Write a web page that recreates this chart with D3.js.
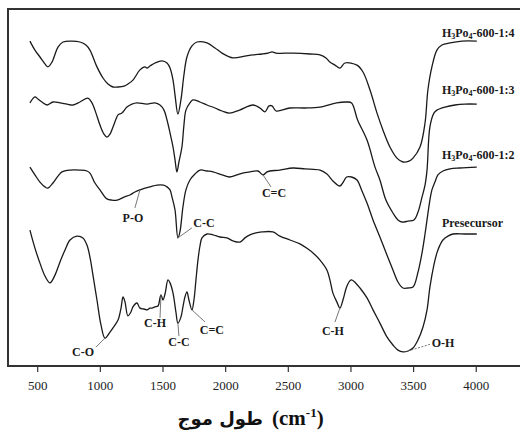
<!DOCTYPE html>
<html><head><meta charset="utf-8">
<script src="https://cdn.jsdelivr.net/npm/d3@7"></script>
<style>html,body{margin:0;padding:0;background:#fff;}svg{display:block;}</style>
</head><body>
<svg id="chart" width="520" height="430"></svg>
<script>
// ---- data ----
const xTicks = [500, 1000, 1500, 2000, 2500, 3000, 3500, 4000];

const wave14 = [442,482,522,562,586,618,666,706,778,841,889,921,977,1025,1065,1105,1145,1193,1224,1264,1320,1360,1376,1400,1440,1496,1536,1560,1584,1600,1623,1647,1671,1695,1735,1775,1855,1919,1975,2062,2158,2222,2294,2342,2374,2406,2541,2677,2757,2805,2836,2876,2916,2956,3052,3100,3156,3212,3259,3315,3371,3419,3467,3499,3555,3595,3618,3650,3690,3730,3794,3890,4008];
const trans14 = [108.3,105.3,103,100.7,99.7,101.3,106.3,108,108.3,108,107,105.3,99.7,96,94,93,93,93.3,94,95.3,98.7,99.7,99.3,100,101,101.7,101,99.3,95.3,90.3,84,88.7,97,103,106.7,108,107.7,106,104.3,102.7,103.3,103.7,104,104.3,104.7,104.3,104.3,104,103.7,102.7,101.3,100.3,99.3,101,100.3,98,92,84.3,78.7,73,69.3,68,68.3,69.3,73,81,92,99.7,105.3,107,107.7,108.3,108.3];

const wave13 = [442,482,506,538,578,626,682,738,786,841,905,937,969,1001,1033,1057,1081,1105,1129,1145,1176,1216,1256,1296,1376,1440,1480,1512,1536,1560,1584,1600,1615,1631,1655,1671,1687,1719,1743,1799,1855,1919,1975,2035,2115,2222,2278,2318,2350,2374,2406,2517,2637,2757,2889,2969,3009,3057,3132,3196,3235,3283,3339,3379,3411,3459,3507,3539,3571,3595,3611,3634,3666,3690,3754,3834,3913,4008];
const trans13 = [87.7,89.7,89,88,87,88,87.7,87.3,87,88,89.3,87.7,84.3,80.3,77.3,76.3,77.3,79.7,82.3,83.7,84.3,86.3,87.3,87.7,87.3,87.7,87,85.3,82,77.7,73,68.7,64.7,68,73,80.3,85.3,87.7,88.7,88,87,86,85,84.3,85.3,87,86,84.7,86.7,86.7,85,86,86,86.3,87.7,88,87.7,82,75.3,66.3,62,55.3,51,48.7,48,48.3,48.7,51.3,56.3,60.3,65.3,79.7,84.3,85.3,86.3,87,87.3,87.3];

const wave12 = [442,482,522,562,586,626,666,698,762,841,897,921,961,1001,1057,1097,1137,1193,1240,1280,1320,1360,1400,1456,1508,1536,1560,1576,1600,1623,1639,1663,1687,1719,1759,1799,1855,1903,1975,2035,2094,2138,2198,2262,2302,2334,2357,2437,2541,2637,2757,2812,2860,2916,2948,2969,3009,3052,3092,3132,3180,3235,3291,3339,3379,3419,3459,3499,3539,3571,3595,3611,3634,3650,3674,3698,3738,3794,3873,4008];
const trans12 = [66.3,63.7,61.3,59.7,59.3,61,63.3,64.7,65.3,65.3,65,64.3,61,58.7,55.7,55.3,55.3,56.3,57,58,58.7,59.3,59.7,60.3,60.3,59.7,58.7,56.3,52,42.7,44.7,53,58.7,62,64,65.3,65,64.7,63.7,63,63.7,64.3,64.7,65,63.7,64.7,65,65.3,66,65.7,65.3,64,61.7,60,61.7,63,63,62,58.3,54.3,48.7,43,37,32,28,26,26,26.3,31.3,37.7,44,48.7,55.3,58.7,61.3,63.7,65,65.7,66,66.3];

const wavePre = [442,482,522,562,602,642,682,722,762,817,865,897,921,945,977,1009,1041,1081,1105,1145,1169,1185,1201,1224,1248,1264,1296,1320,1352,1376,1400,1416,1440,1464,1480,1488,1504,1520,1544,1560,1584,1607,1623,1647,1663,1679,1695,1711,1735,1751,1767,1783,1799,1815,1855,1903,1959,2014,2062,2118,2158,2198,2238,2294,2381,2437,2517,2597,2661,2701,2757,2812,2836,2860,2892,2916,2940,2969,2993,3009,3041,3076,3132,3180,3235,3291,3339,3379,3419,3459,3499,3539,3579,3611,3634,3666,3690,3714,3738,3778,3818,3913,4008];
const transPre = [45.3,39.3,34.3,30,27.7,30.3,34.7,38.7,42,43.3,42.7,40.3,36.3,30.3,22,13.7,9.3,11.3,12.7,15.3,19.3,23,21.3,16.7,18,19.7,21,19.3,19,18.7,19.3,19.3,19.7,20,22.7,23.7,22,24,28.7,27.7,24.3,18,14.3,16.3,19.7,23,24.7,22,18.7,22,28.7,35.3,40,42.7,44,43.7,43,42.7,41.7,41.3,42.7,43.7,44.3,44.7,44.7,43.3,42,40.7,39,37.7,35.3,32,28.7,24.3,21.3,19.3,22,26.3,28.3,28.7,27.7,26,22.7,18.7,14.3,9.7,7,5.3,4.7,5,6,8.7,13,18.7,26.3,33.7,37.7,40.3,42,43.3,44,44,44];

// series label parts: [text, isSubscript]
const seriesLabels = [
  [["H",0],["3",1],["Po",0],["4",1],["-600-1:4",0]],
  [["H",0],["3",1],["Po",0],["4",1],["-600-1:3",0]],
  [["H",0],["3",1],["Po",0],["4",1],["-600-1:2",0]],
  [["Presecursor",0]]
];

// band annotations
const annLabels = ["P-O", "C-C", "C=C", "C-O", "C-H", "C-C", "C=C", "C-H", "O-H"];
const annSeries = [2, 2, 2, 3, 3, 3, 3, 3, 3];
const annWave   = [1320, 1623, 2302, 1041, 1488, 1623, 1735, 2916, 3459];

// ---- layout (pixel offsets, styles) ----
const seriesData = [[wave14, trans14], [wave13, trans13], [wave12, trans12], [wavePre, transPre]];
const labelDy = [-4, -10, -8, -7];
// [leaderEndDx, leaderEndDy, labelDx, labelDy, dashed]
const annLayout = [
  [-5, 18, -7, 28, 0],
  [14, -10, 26, -15, 0],
  [8, 12, 11, 18, 0],
  [-9, 9, -22, 14, 0],
  [-1, 23, -6, 28, 0],
  [1, 13, 1, 19, 0],
  [13, 12, 20, 20, 0],
  [-5, 14, -7, 23, 0],
  [23, -7, 35, -8, 1]
];

const svg = d3.select("#chart");
const x = d3.scaleLinear().domain([267, 4353]).range([8, 520]);
const y = d3.scaleLinear().domain([0, 119]).range([366, 9]);
const serif = "'Liberation Serif','Times New Roman',serif";

// curves
const line = d3.line().x(d => x(d[0])).y(d => y(d[1])).curve(d3.curveCatmullRom.alpha(0.5));
seriesData.forEach(([w, t]) => {
  svg.append("path")
    .datum(w.map((v, i) => [v, t[i]]))
    .attr("d", line)
    .attr("fill", "none")
    .attr("stroke", "#1a1a1a")
    .attr("stroke-width", 1.3)
    .attr("stroke-linejoin", "round");
});

// series labels
seriesData.forEach(([w, t], i) => {
  const txt = svg.append("text")
    .attr("x", x(3730))
    .attr("y", y(t[t.length - 1]) + labelDy[i])
    .attr("font-family", serif)
    .attr("font-weight", "bold")
    .attr("font-size", 12)
    .attr("fill", "#1a1a1a");
  let acc = 0;
  seriesLabels[i].forEach(([s, sub]) => {
    const target = sub ? 2 : 0;
    const ts = txt.append("tspan").text(s).attr("dy", target - acc);
    if (sub) ts.attr("font-size", 8);
    acc = target;
  });
});

// annotations
annLabels.forEach((lab, k) => {
  const [w, t] = seriesData[annSeries[k]];
  const idx = w.indexOf(annWave[k]);
  const ax = x(w[idx]), ay = y(t[idx]);
  const L = annLayout[k];
  svg.append("line")
    .attr("x1", ax).attr("y1", ay)
    .attr("x2", ax + L[0]).attr("y2", ay + L[1])
    .attr("stroke", "#666").attr("stroke-width", 0.9)
    .attr("stroke-dasharray", L[4] ? "2,1.5" : null);
  svg.append("text")
    .attr("x", ax + L[2]).attr("y", ay + L[3] + 4)
    .attr("text-anchor", "middle")
    .attr("font-family", serif).attr("font-weight", "bold").attr("font-size", 12)
    .attr("fill", "#1a1a1a")
    .text(lab);
});

// frame
const frame = svg.append("g").attr("stroke", "#333").attr("stroke-width", 2).attr("fill", "none");
frame.append("path").attr("d", `M${x.range()[1] + 2},${y.range()[1]}H${x.range()[0]}V${y.range()[0]}H${x.range()[1] + 2}`);

// x axis
const axis = svg.append("g").attr("transform", `translate(0,${y.range()[0]})`)
  .call(d3.axisBottom(x).tickValues(xTicks).tickSize(6).tickPadding(9).tickFormat(d3.format("d")));
axis.select(".domain").remove();
axis.selectAll(".tick line").attr("stroke", "#333").attr("stroke-width", 1.2);
axis.selectAll(".tick text").attr("font-family", serif).attr("font-size", 13).attr("fill", "#222");

// title: "طول موج (cm-1)"
svg.append("text")
  .attr("x", 263).attr("y", 425)
  .attr("text-anchor", "end")
  .attr("font-family", "'DejaVu Sans',sans-serif").attr("font-weight", "bold").attr("font-size", 18)
  .attr("fill", "#111")
  .text("طول موج");
const unit = svg.append("text")
  .attr("x", 272).attr("y", 425)
  .attr("font-family", serif).attr("font-weight", "bold").attr("font-size", 21)
  .attr("fill", "#111");
unit.append("tspan").text("(cm");
unit.append("tspan").text("-1").attr("font-size", 13).attr("dy", -8);
unit.append("tspan").text(")").attr("dy", 8);
</script>
</body></html>
